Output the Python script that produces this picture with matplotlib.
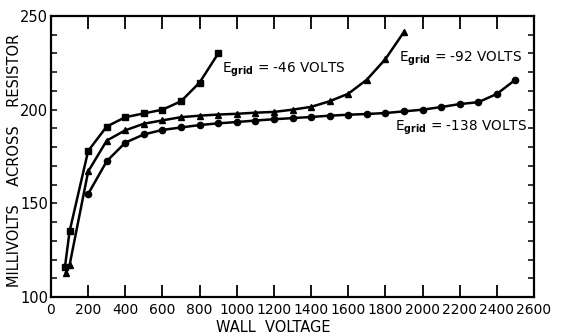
import matplotlib
matplotlib.use("Agg")
import matplotlib.pyplot as plt
from matplotlib.ticker import MultipleLocator

# E_grid = -46 volts (squares)
v46_x = [75, 100, 200, 300, 400, 500, 600, 700, 800, 900]
v46_y = [116, 135, 178, 191, 196, 198, 200, 204.5, 214.5, 230]

# E_grid = -92 volts (triangles)
v92_x = [80, 100, 200, 300, 400, 500, 600, 700, 800, 900, 1000,
         1100, 1200, 1300, 1400, 1500, 1600, 1700, 1800, 1900]
v92_y = [113, 117, 167, 183.5, 189, 192.5, 194.3, 196, 196.8, 197.4, 197.8,
         198.4, 198.8, 200, 201.5, 204.5, 208.5, 216, 227, 241.5]

# E_grid = -138 volts (circles)
v138_x = [200, 300, 400, 500, 600, 700, 800, 900, 1000, 1100, 1200, 1300,
          1400, 1500, 1600, 1700, 1800, 1900, 2000, 2100, 2200, 2300, 2400, 2500]
v138_y = [155, 172.5, 182.4, 186.8, 189.2, 190.5, 191.8, 192.7, 193.4, 194.2,
          194.9, 195.5, 196.1, 196.8, 197.3, 197.7, 198.2, 199.1, 200, 201.4,
          203, 204, 208.4, 216]

x_ticks = list(range(0, 2601, 200))
y_ticks = [100, 150, 200, 250]

fig = plt.figure(figsize=(5.61, 3.35), dpi=100)
ax = fig.add_axes([0.0909, 0.1134, 0.8610, 0.8388])

series = [
    (v46_x, v46_y, "s", 4.5),
    (v92_x, v92_y, "^", 5),
    (v138_x, v138_y, "o", 4.5),
]
for x, y, marker, ms in series:
    ax.plot(x, y, color="black", linewidth=1.8, marker=marker, markersize=ms,
            markerfacecolor="black", markeredgecolor="black")

ax.set_xlim(0, 2600)
ax.set_ylim(100, 250)
ax.set_xticks(x_ticks)
ax.set_yticks(y_ticks)
ax.yaxis.set_minor_locator(MultipleLocator(10))
ax.tick_params(axis="x", which="major", direction="in", length=9, width=1.3,
               top=True, labelsize=10, pad=4)
ax.tick_params(axis="y", which="both", direction="in", length=4.5, width=1.1,
               right=True, labelsize=10.5, pad=2)
for s in ax.spines.values():
    s.set_linewidth(1.6)

label_kw = dict(fontsize=9.8, va="center", ha="left")
ax.text(920, 221, r"E$_{\mathbf{grid}}$ = -46 VOLTS", **label_kw)
ax.text(1873, 227, r"E$_{\mathbf{grid}}$ = -92 VOLTS", **label_kw)
ax.text(1851, 190.5, r"E$_{\mathbf{grid}}$ = -138 VOLTS", **label_kw)

fig.text(0.026, 0.52, "MILLIVOLTS    ACROSS    RESISTOR", rotation=90,
         fontsize=10.5, ha="center", va="center")
fig.text(0.487, 0.022, "WALL  VOLTAGE", fontsize=10.5,
         ha="center", va="center")

fig.savefig("out.png", dpi=100)
